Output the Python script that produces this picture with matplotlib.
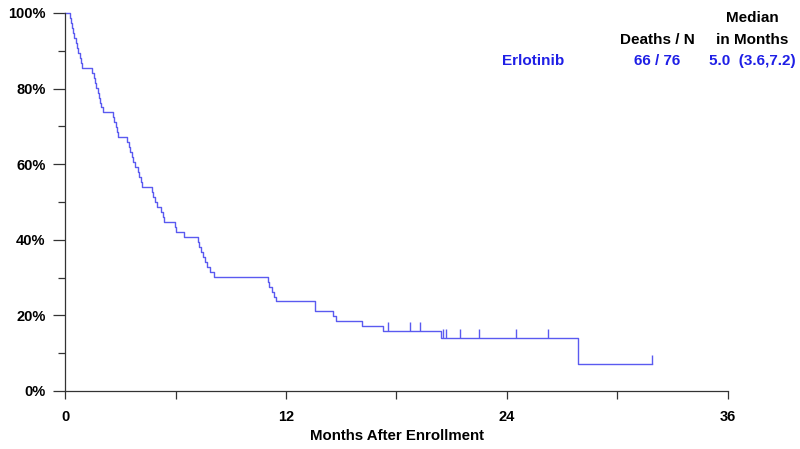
import numpy as np
import matplotlib
matplotlib.use("Agg")
import matplotlib.pyplot as plt
from matplotlib.ticker import MultipleLocator, FuncFormatter

# event times (months)
death_times = [0.25, 0.3, 0.4, 0.45, 0.5, 0.6, 0.65, 0.7, 0.8, 0.85, 0.95,
               1.45, 1.55, 1.65, 1.7, 1.8, 1.85, 1.9, 1.95, 2.05,
               2.6, 2.65, 2.75, 2.8, 2.9,
               3.35, 3.45, 3.55, 3.65, 3.7, 3.8, 3.95, 4.0, 4.1, 4.2,
               4.7, 4.8, 4.9, 5.0, 5.2, 5.3, 5.4,
               5.95, 6.0, 6.45,
               7.2, 7.3, 7.4, 7.5, 7.6, 7.7, 7.9, 8.1,
               11.0, 11.1, 11.25, 11.35, 11.45,
               13.55, 13.6, 14.55, 14.7, 16.1, 17.25,
               20.4, 27.85]
censor_times = [17.55, 18.75, 19.25, 20.52, 20.71, 21.44, 22.48, 24.51, 26.22, 31.87]

group = "Erlotinib"
deaths_n = "66 / 76"
median_txt = "5.0  (3.6,7.2)"

blue_line = "#5a5af0"
blue_txt = "#1f1fe6"

# Kaplan-Meier estimate
d = np.array(death_times)
c = np.array(censor_times)
times = np.unique(np.concatenate([d, c]))
n = len(d) + len(c)
surv = 100.0
ts, ss = [0.0], [100.0]
cens_x, cens_y = [], []
for t in times:
    nd = np.sum(d == t)
    nc = np.sum(c == t)
    if nd:
        surv *= (1 - nd / n)
    ts.append(t)
    ss.append(surv)
    if nc:
        cens_x.append(t)
        cens_y.append(surv)
    n -= nd + nc

fig = plt.figure(figsize=(8, 4.49), dpi=100)
ax = fig.add_axes([65 / 800, 58 / 449, 663 / 800, 378 / 449])

ax.step(ts, ss, where="post", color=blue_line, lw=1.0, clip_on=False)
ax.vlines(cens_x, cens_y, np.array(cens_y) + 2.4, color=blue_line, lw=1.0)

ax.set_xlim(0, 36)
ax.set_ylim(0, 100)
for s in ["top", "right"]:
    ax.spines[s].set_visible(False)
for s in ["left", "bottom"]:
    ax.spines[s].set_color("#333333")
    ax.spines[s].set_linewidth(0.9)

ax.xaxis.set_major_locator(MultipleLocator(12))
ax.xaxis.set_minor_locator(MultipleLocator(6))
ax.yaxis.set_major_locator(MultipleLocator(20))
ax.yaxis.set_minor_locator(MultipleLocator(10))
ax.yaxis.set_major_formatter(FuncFormatter(lambda v, p: f"{v:.0f}%"))
ax.tick_params(axis="y", which="major", length=9, width=0.9, color="#333333", pad=5)
ax.tick_params(axis="y", which="minor", length=5, width=0.9, color="#333333")
ax.tick_params(axis="x", which="both", length=6, width=0.9, color="#333333", pad=8)

narrow = ["Liberation Sans Narrow", "Liberation Sans", "DejaVu Sans"]
for lab in ax.get_xticklabels() + ax.get_yticklabels():
    lab.set_fontfamily(narrow)
    lab.set_fontweight("bold")
    lab.set_fontsize(10.5)

ax.set_xlabel("Months After Enrollment", fontfamily=narrow, fontweight="bold",
              fontsize=10.8, labelpad=3)

hdr = dict(fontfamily=["Liberation Sans", "DejaVu Sans"], fontweight="bold",
           fontsize=11, ha="center", va="center")
fig.text(752 / 800, 1 - 18 / 449, "Median", color="black", **hdr)
fig.text(657 / 800, 1 - 40 / 449, "Deaths / N", color="black", **hdr)
fig.text(752 / 800, 1 - 40 / 449, "in Months", color="black", **hdr)
fig.text(533 / 800, 1 - 61 / 449, group, color=blue_txt, **hdr)
fig.text(657 / 800, 1 - 61 / 449, deaths_n, color=blue_txt, **hdr)
fig.text(752 / 800, 1 - 61 / 449, median_txt, color=blue_txt, **hdr)

fig.savefig("out.png", dpi=100)
